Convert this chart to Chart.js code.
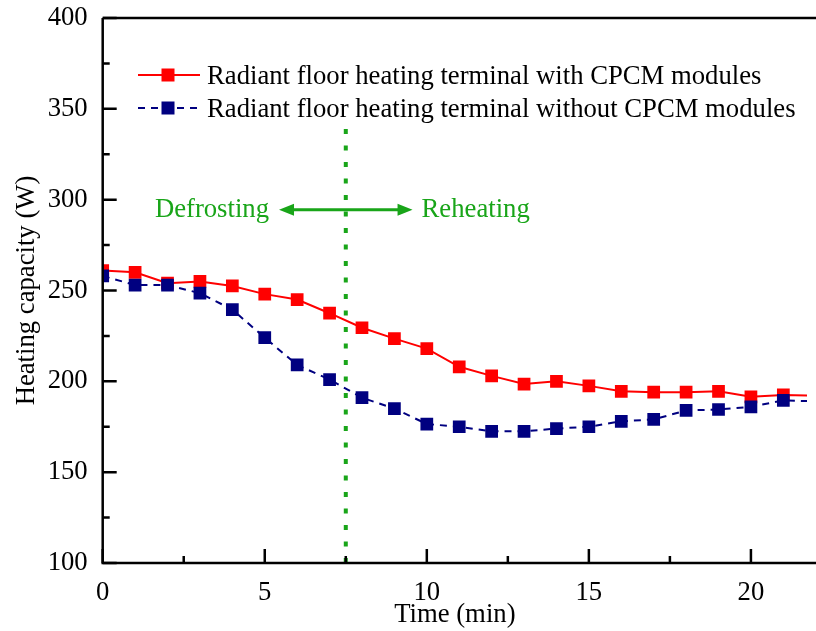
<!DOCTYPE html>
<html>
<head>
<meta charset="utf-8">
<script src="https://cdn.jsdelivr.net/npm/chart.js@4.4.1/dist/chart.umd.min.js"></script>
<style>
  body { margin: 0; background: #fff; }
  canvas { display: block; }
</style>
</head>
<body>
<canvas id="chart" width="816" height="631"></canvas>
<script>
// Data
const timeMin = [0, 1, 2, 3, 4, 5, 6, 7, 8, 9, 10, 11, 12, 13, 14, 15, 16, 17, 18, 19, 20, 21, 22];
const withCPCM = [261, 260, 254, 255, 252.5, 248, 245, 237.5, 229.5, 223.5, 218, 208, 203, 198.5, 200, 197.5, 194.5, 194, 194, 194.5, 191.5, 192.5, 192];
const withoutCPCM = [258, 253, 253, 248.5, 239.5, 224, 209, 201, 191, 185, 176.5, 175, 172.5, 172.5, 174, 175, 178, 179, 184, 184.5, 186, 189.5, 189];

const xMajorTicks = [0, 5, 10, 15, 20];
const xMinorTicks = [2.5, 7.5, 12.5, 17.5];
const yMajorTicks = [100, 150, 200, 250, 300, 350, 400];
const yMinorTicks = [125, 175, 225, 275, 325, 375];

const legendLabels = ["Radiant floor heating terminal with CPCM modules", "Radiant floor heating terminal without CPCM modules"];
const phaseSwitch = 7.5;           // min, end of defrosting
const phaseLabels = ["Defrosting", "Reheating"];
const phaseArrowY = 294.5;         // W, height of the arrow
const phaseLineTop = 341;          // W, top of the dotted line
const phaseArrowHalf = 2.06;       // min, half length of the arrow

const FAMILY = "'Liberation Serif', 'Times New Roman', serif";
const FONT = { family: FAMILY, size: 26.7 };
const GREEN = "#19a519";
const RED = "#ff0000";
const NAVY = "#000080";

const decor = {
  id: "decor",
  beforeDatasetsDraw(chart) {
    const { ctx, chartArea: a, scales: { x, y } } = chart;
    const px = x.getPixelForValue(phaseSwitch);
    const ay = y.getPixelForValue(phaseArrowY);
    const x1 = x.getPixelForValue(phaseSwitch - phaseArrowHalf);
    const x2 = x.getPixelForValue(phaseSwitch + phaseArrowHalf);
    ctx.save();
    // dotted phase line
    ctx.strokeStyle = GREEN;
    ctx.lineWidth = 4;
    ctx.setLineDash([5, 11.5]);
    ctx.beginPath();
    ctx.moveTo(px, a.bottom);
    ctx.lineTo(px, y.getPixelForValue(phaseLineTop));
    ctx.stroke();
    ctx.setLineDash([]);
    // double arrow
    const head = 15, hw = 6;
    ctx.lineWidth = 3;
    ctx.beginPath();
    ctx.moveTo(x1 + head - 2, ay);
    ctx.lineTo(x2 - head + 2, ay);
    ctx.stroke();
    ctx.fillStyle = GREEN;
    ctx.beginPath();
    ctx.moveTo(x1, ay); ctx.lineTo(x1 + head, ay - hw); ctx.lineTo(x1 + head, ay + hw); ctx.closePath();
    ctx.moveTo(x2, ay); ctx.lineTo(x2 - head, ay - hw); ctx.lineTo(x2 - head, ay + hw); ctx.closePath();
    ctx.fill();
    // labels
    ctx.font = "26.7px " + FAMILY;
    ctx.textBaseline = "alphabetic";
    ctx.textAlign = "right";
    ctx.fillText(phaseLabels[0], x1 - 10, ay + 7.5);
    ctx.textAlign = "left";
    ctx.fillText(phaseLabels[1], x2 + 9, ay + 7.5);
    ctx.restore();
  },
  afterDatasetsDraw(chart) {
    const { ctx, chartArea: a, scales: { x, y } } = chart;
    ctx.save();
    ctx.strokeStyle = "#000";
    ctx.lineWidth = 2.5;
    ctx.beginPath();
    ctx.moveTo(a.left, a.top); ctx.lineTo(chart.width, a.top);
    ctx.moveTo(a.left, a.top); ctx.lineTo(a.left, a.bottom); ctx.lineTo(chart.width, a.bottom);
    ctx.stroke();
    // inward ticks
    ctx.beginPath();
    yMajorTicks.forEach(v => { const p = y.getPixelForValue(v); ctx.moveTo(a.left, p); ctx.lineTo(a.left + 14, p); });
    yMinorTicks.forEach(v => { const p = y.getPixelForValue(v); ctx.moveTo(a.left, p); ctx.lineTo(a.left + 7, p); });
    xMajorTicks.forEach(v => { const p = x.getPixelForValue(v); ctx.moveTo(p, a.bottom); ctx.lineTo(p, a.bottom - 14); });
    xMinorTicks.forEach(v => { const p = x.getPixelForValue(v); ctx.moveTo(p, a.bottom); ctx.lineTo(p, a.bottom - 7); });
    ctx.stroke();

    // legend
    const rows = [75, 108];
    chart.data.datasets.forEach(ds => {
      const ly = rows[ds.legendRow];
      ctx.strokeStyle = ds.borderColor;
      ctx.lineWidth = 2;
      ctx.setLineDash(ds.borderDash || []);
      ctx.beginPath();
      ctx.moveTo(138, ly); ctx.lineTo(200, ly);
      ctx.stroke();
      ctx.setLineDash([]);
      ctx.fillStyle = ds.borderColor;
      ctx.fillRect(168 - 6.5, ly - 6.5, 13, 13);
      ctx.fillStyle = "#000";
      ctx.font = "26.7px " + FAMILY;
      ctx.textAlign = "left";
      ctx.textBaseline = "alphabetic";
      ctx.fillText(legendLabels[ds.legendRow], 207, ly + 8.5);
    });
    ctx.restore();
  }
};

const toPoints = vals => timeMin.map((t, i) => ({ x: t, y: vals[i] }));

new Chart(document.getElementById("chart"), {
  type: "line",
  data: {
    datasets: [
      {
        label: legendLabels[1],
        legendRow: 1,
        data: toPoints(withoutCPCM),
        borderColor: NAVY,
        backgroundColor: NAVY,
        borderWidth: 2,
        borderDash: [7, 6],
        pointStyle: "rect",
        pointRadius: 9,
        pointBorderWidth: 0,
        clip: 0,
        order: 1
      },
      {
        label: legendLabels[0],
        legendRow: 0,
        data: toPoints(withCPCM),
        borderColor: RED,
        backgroundColor: RED,
        borderWidth: 2,
        pointStyle: "rect",
        pointRadius: 9,
        pointBorderWidth: 0,
        clip: 0,
        order: 2
      }
    ]
  },
  options: {
    responsive: false,
    animation: false,
    layout: { padding: { top: 18, left: 0, right: 0, bottom: 0 } },
    plugins: { legend: { display: false }, tooltip: { enabled: false } },
    scales: {
      x: {
        type: "linear",
        min: 0,
        max: 21.73,
        grid: { display: false, drawTicks: false },
        border: { display: false },
        afterBuildTicks: s => { s.ticks = xMajorTicks.map(v => ({ value: v })); },
        ticks: { font: FONT, color: "#000", padding: 14, maxRotation: 0 },
        title: { display: true, text: "Time (min)", font: FONT, color: "#000", padding: { top: 0, bottom: 0 } },
        afterFit: s => { s.height = 68; s.paddingLeft = 0; s.paddingRight = 0; }
      },
      y: {
        min: 100,
        max: 400,
        grid: { display: false, drawTicks: false },
        border: { display: false },
        afterBuildTicks: s => { s.ticks = yMajorTicks.map(v => ({ value: v })); },
        ticks: { font: FONT, color: "#000", padding: 15 },
        title: { display: true, text: "Heating capacity (W)", font: FONT, color: "#000", padding: { top: 11, bottom: 0 } },
        afterFit: s => { s.width = 102.7; s.paddingTop = 0; s.paddingBottom = 0; }
      }
    }
  },
  plugins: [decor]
});
</script>
</body>
</html>
